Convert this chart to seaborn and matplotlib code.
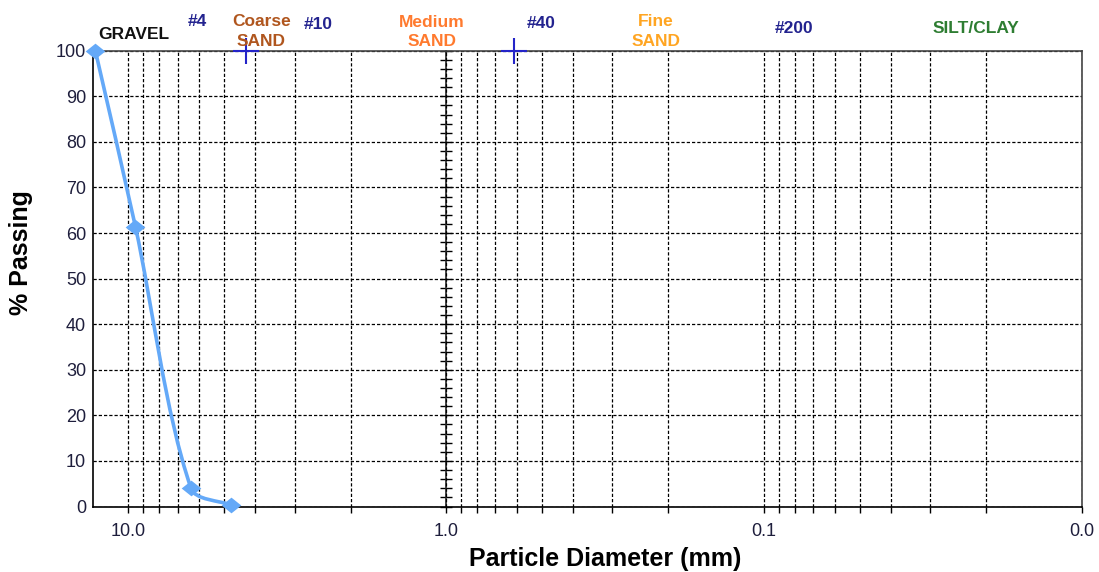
import numpy as np
import seaborn as sns
from matplotlib import pyplot as plt
from matplotlib.path import Path
from matplotlib.patches import PathPatch
from matplotlib.ticker import FixedLocator, FormatStrFormatter, NullFormatter, LogLocator

# sieve results
sieve_mm = [12.7, 9.5, 6.35, 4.75]
pct_passing = [100, 61.4, 4.0, 0.3]

# blue "+" marks on the top edge
mark_mm = [4.26, 0.613]
mark_pct = [100, 100]

x_ticks = [10, 1, 0.1, 0.01]
y_ticks = list(range(0, 101, 10))

# soil class / sieve headings above the plot
top_labels = ["GRAVEL", "#4", "Coarse\nSAND", "#10", "Medium\nSAND",
              "#40", "Fine\nSAND", "#200", "SILT/CLAY"]
top_label_mm = [9.63, 6.08, 3.81, 2.52, 1.11, 0.503, 0.219, 0.0803, 0.0215]

NAVY = "#23238f"
label_colors = ["#111111", NAVY, "#b0561e", NAVY, "#ff7a2e",
                NAVY, "#ffa522", NAVY, "#2e7d32"]
# baseline of first line, px above the top spine
label_rise = [11.5, 24.5, 24.2, 22.0, 23.6, 22.5, 24.2, 17.7, 17.7]
LINE_STEP = 19.2
LINE_COLOR = "#64a9f8"
TICK_COLOR = "#1e1e3c"


def smooth_path(ax, xs, ys, tension=0.3):
    # excel-style smoothed line, bezier handles built in screen space
    pts = ax.transData.transform(np.column_stack([xs, ys]))
    n = len(pts)

    def tangent(i):
        d = pts[min(i + 1, n - 1)] - pts[max(i - 1, 0)]
        return d / np.hypot(*d)

    verts = [pts[0]]
    codes = [Path.MOVETO]
    for i in range(n - 1):
        p1, p2 = pts[i], pts[i + 1]
        seg = np.hypot(*(p2 - p1))
        verts += [p1 + tension * seg * tangent(i), p2 - tension * seg * tangent(i + 1), p2]
        codes += [Path.CURVE4] * 3
    return Path(ax.transData.inverted().transform(np.array(verts)), codes)


sns.set_style("white")
plt.rcParams["font.family"] = ["Liberation Sans", "DejaVu Sans"]

fig, ax = plt.subplots(figsize=(10.99, 5.72), dpi=100)
fig.subplots_adjust(left=0.0843, right=0.9845, bottom=1 - 506.5 / 572, top=1 - 50.7 / 572)

ax.set_xscale("log")
ax.set_xlim(12.95, 0.01)
ax.set_ylim(0, 100)

ax.xaxis.set_major_locator(FixedLocator(x_ticks))
ax.xaxis.set_major_formatter(FormatStrFormatter("%.1f"))
ax.xaxis.set_minor_locator(LogLocator(base=10, subs=np.arange(2, 10)))
ax.xaxis.set_minor_formatter(NullFormatter())
ax.set_yticks(y_ticks)

dash = (0, (2.6, 1.6))
ax.grid(True, which="both", axis="x", color="black", linestyle=dash, linewidth=0.9)
ax.grid(True, which="major", axis="y", color="black", linestyle=dash, linewidth=0.9)
ax.set_axisbelow(True)

ax.tick_params(axis="x", which="both", direction="out", length=4, width=1,
               color="black", bottom=True, pad=8, labelsize=13, labelcolor=TICK_COLOR)
ax.tick_params(axis="y", which="both", length=0, pad=4.8, labelsize=13,
               labelcolor=TICK_COLOR)

for side in ["left", "bottom"]:
    ax.spines[side].set_color("black")
    ax.spines[side].set_linewidth(1.2)
for side in ["top", "right"]:
    ax.spines[side].set_color("#444444")
    ax.spines[side].set_linewidth(1.2)
    ax.spines[side].set_visible(True)

# solid inner axis at 1.0 mm with small crossing ticks
lo, hi = np.log10(ax.get_xlim())
inner = ax.secondary_yaxis((lo - np.log10(1.0)) / (lo - hi))
inner.set_yticks(np.arange(0, 101, 2))
inner.tick_params(axis="y", which="both", direction="inout", length=8.5, width=1,
                  color="black", labelleft=False, labelright=False)
inner.spines["left"].set_linewidth(1.2)
inner.spines["right"].set_linewidth(1.2)

ax.set_xlabel("Particle Diameter (mm)", fontsize=18, fontweight="bold", color="black")
ax.set_ylabel("% Passing", fontsize=18, fontweight="bold", color="black")
ax.xaxis.set_label_coords(0.518, -0.088)
ax.yaxis.set_label_coords(-0.060, 0.558)

# gradation curve
ax.add_patch(PathPatch(smooth_path(ax, sieve_mm, pct_passing), facecolor="none",
                       edgecolor=LINE_COLOR, linewidth=2.6, clip_on=False,
                       capstyle="round", zorder=4))
diamond = Path([(-1, 0), (0, 0.8), (1, 0), (0, -0.8), (-1, 0)],
               [Path.MOVETO, Path.LINETO, Path.LINETO, Path.LINETO, Path.CLOSEPOLY])
sns.scatterplot(x=sieve_mm, y=pct_passing, marker=diamond, s=200, color=LINE_COLOR,
                linewidth=0, ax=ax, clip_on=False, zorder=5, legend=False)

ax.plot(mark_mm, mark_pct, linestyle="none", marker="+", markersize=19,
        markeredgewidth=1.5, color="#2424c8", clip_on=False, zorder=5)

for text, xmm, color, rise in zip(top_labels, top_label_mm, label_colors, label_rise):
    for k, line in enumerate(text.split("\n")):
        ax.annotate(line, xy=(xmm, 1), xycoords=("data", "axes fraction"),
                    xytext=(0, (rise - k * LINE_STEP) * 0.72), textcoords="offset points",
                    ha="center", va="baseline", fontsize=12.5, fontweight="bold",
                    color=color, annotation_clip=False, zorder=6)

fig.savefig("out.png", dpi=100)
